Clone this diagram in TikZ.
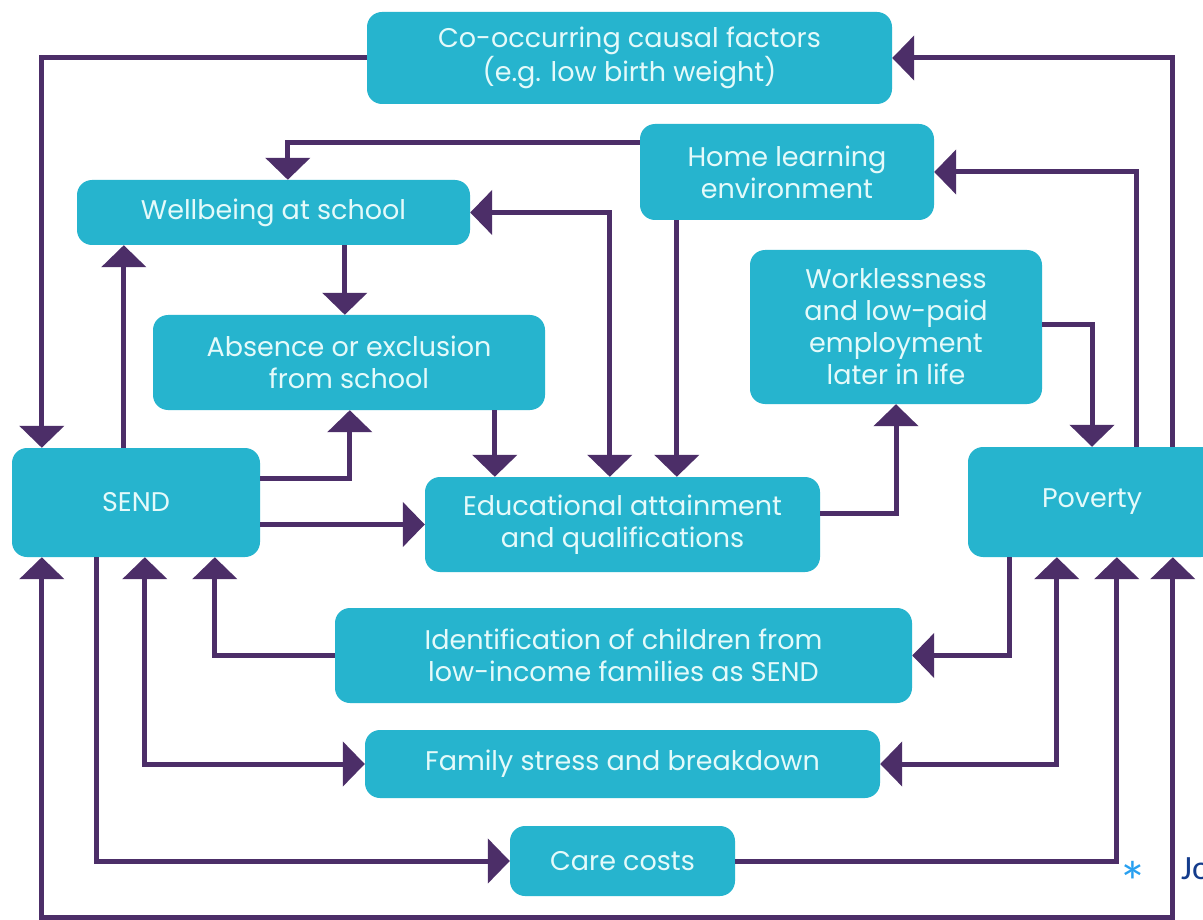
\documentclass[tikz,border=0pt]{standalone}
\usepackage{fontspec}
\setmainfont{Poppins}
\newfontfamily\notefont{Carlito}
\usepackage{tikz}
\usetikzlibrary{arrows.meta}
\definecolor{boxteal}{RGB}{38, 180, 206}
\definecolor{boxtext}{RGB}{228, 250, 250}
\definecolor{linkpurple}{RGB}{76, 46, 104}
\definecolor{notestar}{RGB}{40, 160, 240}
\definecolor{noteblue}{RGB}{20, 60, 140}

\begin{document}
\begin{tikzpicture}[
    x=1pt, y=-1pt,
    box/.style={fill=boxteal, rounded corners=15pt, align=center, inner sep=0pt,
                text=boxtext, font=\fontsize{27}{32}\selectfont},
    flow/.style={draw=linkpurple, line width=5pt, -{Triangle[length=22pt, width=44pt]}},
    twoway/.style={flow, {Triangle[length=22pt, width=44pt]}-{Triangle[length=22pt, width=44pt]}}
]
    \clip (0,0) rectangle (1203,920);
    \fill[white] (0,0) rectangle (1203,920);

    \node[box, minimum width=525pt, minimum height=92pt] (cooc) at (629.5,58) {Co-occurring causal factors\\(e.g. low birth weight)};
    \node[box, minimum width=294pt, minimum height=96pt] (home) at (787,172) {Home learning\\environment};
    \node[box, minimum width=393pt, minimum height=65pt] (wellbeing) at (273.5,212.5) {Wellbeing at school};
    \node[box, minimum width=292pt, minimum height=154pt] (workless) at (896,327) {Worklessness\\and low-paid\\employment\\later in life};
    \node[box, minimum width=392pt, minimum height=95pt] (absence) at (349,362.5) {Absence or exclusion\\from school};
    \node[box, minimum width=248pt, minimum height=109pt] (send) at (136,502.5) {SEND};
    \node[box, minimum width=395pt, minimum height=95pt] (educ) at (622.5,524.5) {Educational attainment\\and qualifications};
    \node[box, minimum width=248pt, minimum height=110pt] (poverty) at (1092,502) {Poverty};
    \node[box, minimum width=577pt, minimum height=95pt] (ident) at (623.5,655.5) {Identification of children from\\low-income families as SEND};
    \node[box, minimum width=515pt, minimum height=68pt] (family) at (622.5,764) {Family stress and breakdown};
    \node[box, minimum width=225pt, minimum height=70pt] (care) at (622.5,861) {Care costs};

    \draw[flow] (cooc.west) -| ([xshift=30pt]send.north west);
    \draw[flow] ([xshift=205pt]poverty.north west) |- (cooc.east);
    \draw[flow] ([yshift=-19pt]home.north west) -| ([xshift=211pt]wellbeing.north west);
    \draw[flow] ([xshift=169pt]poverty.north west) |- (home.east);
    \draw[flow] ([xshift=37pt]home.south west) coordinate (h1) -- (h1 |- educ.north);
    \draw[twoway] (wellbeing.east) -| ([xshift=185pt]educ.north west);
    \draw[flow] ([xshift=268pt]wellbeing.south west) coordinate (w1) -- (w1 |- absence.north);
    \draw[flow] ([xshift=112pt]send.north west) coordinate (s1) -- (s1 |- wellbeing.south);
    \draw[flow] ([yshift=-31pt]send.north east) -| ([xshift=197pt]absence.south west);
    \draw[flow] ([xshift=342pt]absence.south west) coordinate (a1) -- (a1 |- educ.north);
    \draw[flow] (educ.west -| send.east) -- (educ.west);
    \draw[flow] ([yshift=-37pt]educ.north east) -| (workless.south);
    \draw[flow] ([yshift=-75pt]workless.north east) -| (poverty.north);
    \draw[flow] ([xshift=42pt]poverty.south west) |- (ident.east);
    \draw[flow] (ident.west) -| ([xshift=203pt]send.south west);
    \draw[twoway] ([xshift=133pt]send.south west) |- (family.west);
    \draw[twoway] (family.east) -| ([xshift=89pt]poverty.south west);
    \draw[flow] ([xshift=85pt]send.south west) |- (care.west);
    \draw[flow] (care.east) -| ([xshift=149pt]poverty.south west);
    \draw[twoway] ([xshift=30pt]send.south west) -- ++(0,360) -| ([xshift=205pt]poverty.south west);

    \node[text=notestar, font=\notefont\fontsize{58}{58}\selectfont, inner sep=0pt] (star) at (1133,882) {*};
    \node[text=noteblue, font=\notefont\fontsize{34}{34}\selectfont, anchor=west, inner sep=0pt] (note) at (1181,869) {Jo};
\end{tikzpicture}
\end{document}
